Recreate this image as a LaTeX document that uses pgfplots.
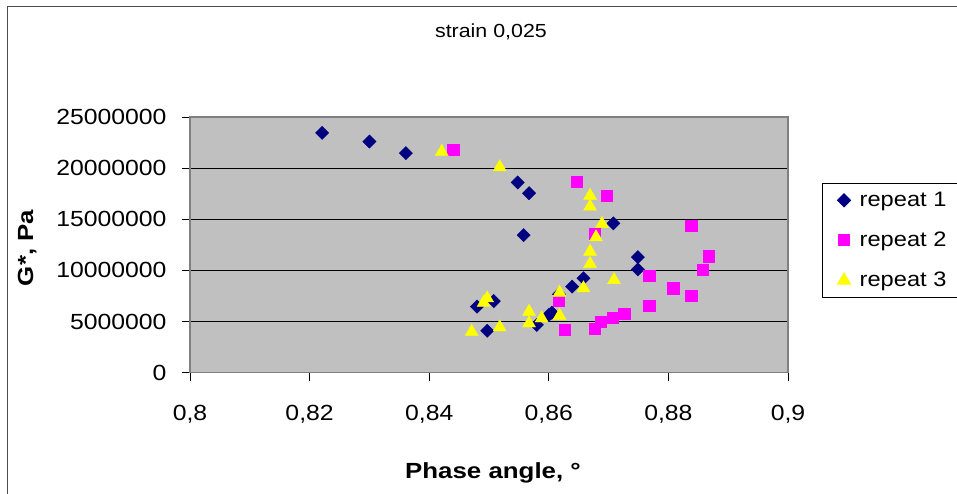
\documentclass[border=0pt]{standalone}
\usepackage{fontspec}
\setmainfont{Liberation Sans}[FakeStretch=1.13]
\newfontfamily\labelfont{Liberation Sans}[FakeStretch=1.18]
\usepackage{pgfplots}
\pgfplotsset{compat=1.18}
\definecolor{plotgray}{RGB}{192,192,192}
\definecolor{bordergray}{RGB}{128,128,128}
\definecolor{rnavy}{RGB}{0,0,128}
\definecolor{rmag}{RGB}{255,0,255}
\definecolor{ryel}{RGB}{255,255,0}
\begin{document}
\begin{tikzpicture}
\useasboundingbox (0,0) rectangle (957bp,494bp);
\fill[white] (0,0) rectangle (957bp,494bp);
\draw[black!70, line width=1bp] (7bp,-5bp) -- (7bp,487bp) -- (965bp,487bp);
\begin{axis}[
  at={(190bp,121.3bp)}, anchor=south west,
  scale only axis, width=598bp, height=255.7bp,
  xmin=0.8, xmax=0.9, ymin=0, ymax=25000000,
  xtick={0.8,0.82,0.84,0.86,0.88,0.9},
  xticklabels={{0,8},{0,82},{0,84},{0,86},{0,88},{0,9}},
  ytick={0,5000000,10000000,15000000,20000000,25000000},
  yticklabels={0,5000000,10000000,15000000,20000000,25000000},
  scaled ticks=false,
  tick align=outside, tick pos=left,
  major tick length=8bp,
  tick style={black, line width=0.8bp},
  axis line style={bordergray, line width=1.2bp},
  axis background/.style={fill=plotgray},
  ymajorgrids, grid style={black, line width=0.8bp},
  tick label style={font=\fontsize{22}{22}\selectfont},
  yticklabel style={xshift=-12bp},
  xticklabel style={yshift=-21bp},
  title={strain 0,025},
  title style={at={(0.5033,1.288)}, anchor=base, font=\fontsize{19}{19}\selectfont},
  xlabel={Phase angle, °},
  ylabel={G*, Pa},
  every axis x label/.style={at={(0.5067,-0.413)}, anchor=base, font=\labelfont\bfseries\fontsize{22}{22}\selectfont},
  every axis y label/.style={at={(-0.2625,0.4877)}, rotate=90, anchor=base, font=\labelfont\bfseries\fontsize{22}{22}\selectfont},
  legend style={at={(1.0569,0.742)}, anchor=north west, draw=black, fill=white,
    font=\fontsize{21}{21}\selectfont, inner xsep=15bp, inner ysep=7bp, row sep=20bp, line width=0.8bp,
    /tikz/column 1/.style={column sep=7bp}},
  legend cell align=left,
]
\addplot[only marks, mark=square*, mark size=4.7bp, mark options={rotate=45, fill=rnavy, draw=rnavy}] coordinates {
(0.8221,23450000) (0.8300,22600000) (0.8361,21470000) (0.8548,18600000)
(0.8567,17550000) (0.8558,13450000) (0.8708,14600000) (0.8749,11300000)
(0.8749,10100000) (0.8658,9240000) (0.8639,8420000) (0.8617,7670000)
(0.8605,5870000) (0.8600,5650000) (0.8580,4670000) (0.8508,7000000)
(0.8480,6460000) (0.8497,4100000)
};
\addlegendentry{repeat 1}
\addplot[only marks, mark=square*, mark size=5.6bp, mark options={fill=rmag, draw=rmag}] coordinates {
(0.8440,21800000) (0.8647,18700000) (0.8697,17300000) (0.8677,13600000)
(0.8838,14350000) (0.8868,11400000) (0.8858,10050000) (0.8768,9460000)
(0.8808,8260000) (0.8838,7500000) (0.8768,6530000) (0.8617,7050000)
(0.8726,5740000) (0.8707,5380000) (0.8687,4990000) (0.8677,4340000)
(0.8627,4180000)
};
\addlegendentry{repeat 2}
\addplot[only marks, mark=triangle*, mark size=7.5bp, mark options={fill=ryel, draw=ryel}] coordinates {
(0.8421,21600000) (0.8518,20100000) (0.8669,17300000) (0.8669,16250000)
(0.8689,14550000) (0.8679,13250000) (0.8669,11840000) (0.8669,10640000)
(0.8709,9070000) (0.8658,8260000) (0.8618,7830000) (0.8567,5970000)
(0.8567,4830000) (0.8588,5320000) (0.8618,5580000) (0.8497,7280000)
(0.8491,6850000) (0.8518,4440000) (0.8471,4010000)
};
\addlegendentry{repeat 3}
\end{axis}
\end{tikzpicture}
\end{document}
